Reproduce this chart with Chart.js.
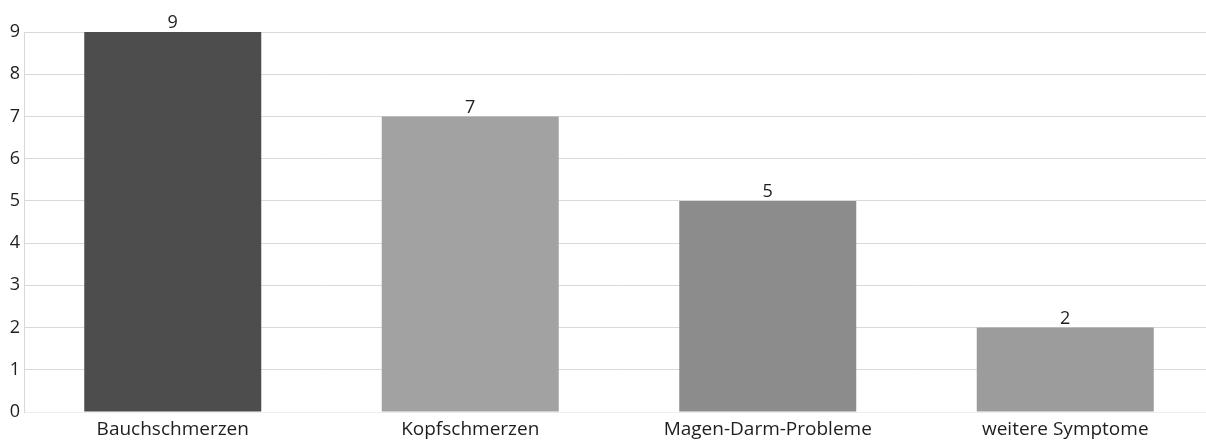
<!DOCTYPE html>
<html>
<head>
<meta charset="utf-8">
<script src="https://cdn.jsdelivr.net/npm/chart.js@4/dist/chart.umd.min.js"></script>
<style>
  html, body { margin: 0; padding: 0; background: #fff; overflow: hidden; }
  #wrap { position: relative; width: 1214px; height: 441px; }
</style>
</head>
<body>
<div id="wrap"><canvas id="c"></canvas></div>
<script>
const categories = ['Bauchschmerzen', 'Kopfschmerzen', 'Magen-Darm-Probleme', 'weitere Symptome'];
const counts = [9, 7, 5, 2];
const barColors = ['#4d4d4d', '#a2a2a2', '#8c8c8c', '#9c9c9c'];
const yTicks = [0, 1, 2, 3, 4, 5, 6, 7, 8, 9];

const FONT = '"Open Sans", "Noto Sans", sans-serif';
const TEXT = '#1e1e1e';

// Writes each bar's value centred just above its top edge
const valueLabels = {
  id: 'valueLabels',
  afterDatasetsDraw(chart) {
    const { ctx } = chart;
    const meta = chart.getDatasetMeta(0);
    ctx.save();
    ctx.fillStyle = TEXT;
    ctx.font = '18px ' + FONT;
    ctx.textAlign = 'center';
    ctx.textBaseline = 'bottom';
    meta.data.forEach((bar, i) => {
      ctx.fillText(String(counts[i]), bar.x, bar.y);
    });
    ctx.restore();
  }
};

new Chart(document.getElementById('c'), {
  type: 'bar',
  data: {
    labels: categories,
    datasets: [{
      data: counts,
      backgroundColor: barColors,
      borderWidth: 0,
      categoryPercentage: 1,
      barPercentage: 0.595
    }]
  },
  options: {
    responsive: true,
    maintainAspectRatio: false,
    animation: false,
    layout: { padding: { top: 32, right: 0, left: 0, bottom: 0 } },
    plugins: { legend: { display: false }, tooltip: { enabled: false } },
    scales: {
      x: {
        grid: { display: false, drawTicks: false },
        border: { color: '#eeeeee', width: 1 },
        ticks: { color: TEXT, font: { family: FONT, size: 19 }, padding: 6, maxRotation: 0 },
        afterFit(scale) { scale.height = 29; }
      },
      y: {
        min: 0,
        max: 9,
        afterBuildTicks(scale) { scale.ticks = yTicks.map(v => ({ value: v })); },
        grid: {
          drawTicks: false,
          color: ctx => (ctx.tick && ctx.tick.value === 0 ? '#eeeeee' : '#d9d9d9'),
          lineWidth: 1
        },
        border: { color: '#d9d9d9', width: 1 },
        ticks: { color: TEXT, font: { family: FONT, size: 18 }, padding: 4 },
        afterFit(scale) { scale.width = 24; }
      }
    }
  },
  plugins: [valueLabels]
});
</script>
</body>
</html>
